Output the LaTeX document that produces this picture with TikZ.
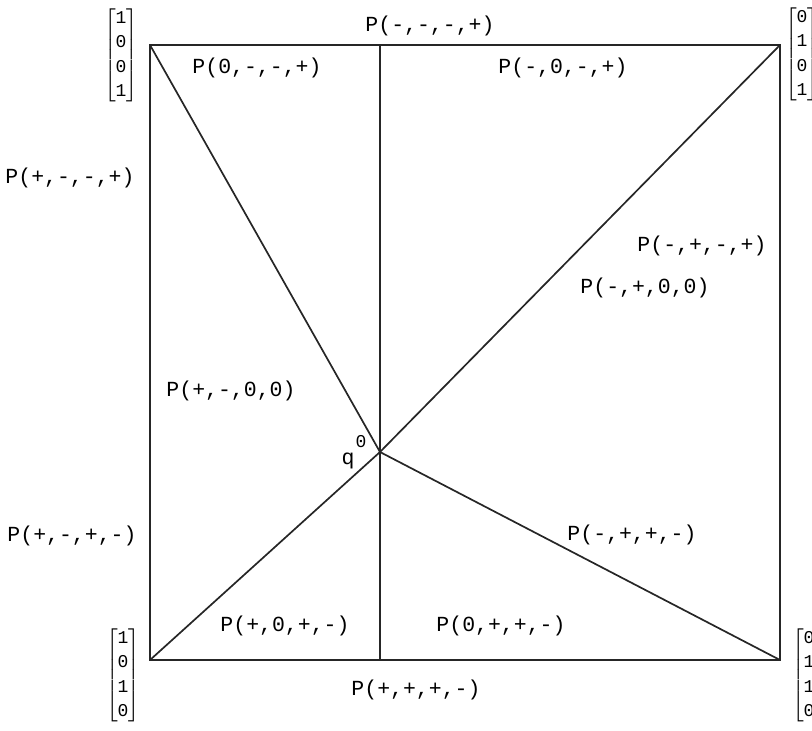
\documentclass[tikz,border=0pt]{standalone}
\usepackage{amsmath}
\usepackage{fontspec}
\setmonofont{Liberation Mono}
\usetikzlibrary{calc}

\newcommand{\colvec}[4]{$\left[\begin{array}{@{}c@{}}\texttt{#1}\\\texttt{#2}\\\texttt{#3}\\\texttt{#4}\end{array}\right]$}

\begin{document}
\begin{tikzpicture}[x=1pt, y=-1pt,
    edge/.style={line width=1.7pt, black!85},
    lab/.style={font=\fontsize{21.5}{24}\selectfont\ttfamily, inner sep=0pt},
    vec/.style={font=\fontsize{18}{24.5}\selectfont, inner sep=0pt}]

\useasboundingbox (0,0) rectangle (812,731);
\clip (0,0) rectangle (812,731);

% === Corners of the square and the point q^0 ===
\coordinate (tl) at (150, 45);
\coordinate (tr) at (780, 45);
\coordinate (bl) at (150, 660);
\coordinate (br) at (780, 660);
\coordinate (q0) at (380, 452);
\coordinate (mt) at (380, 45);
\coordinate (mb) at (380, 660);

% Square
\draw[edge] (tl) -- (tr) -- (br) -- (bl) -- cycle;

% Lines through q^0
\draw[edge] (mt) -- (mb);
\draw[edge] (tl) -- (q0);
\draw[edge] (tr) -- (q0);
\draw[edge] (bl) -- (q0);
\draw[edge] (br) -- (q0);

% === Corner vectors ===
\node[vec] (vtl) at (121, 55)  {\colvec{1}{0}{0}{1}};
\node[vec] (vtr) at (802, 54)  {\colvec{0}{1}{0}{1}};
\node[vec] (vbl) at (123, 675) {\colvec{1}{0}{1}{0}};
\node[vec] (vbr) at (809, 675) {\colvec{0}{1}{1}{0}};

% === Region labels ===
\node[lab] (ptop)  at (430, 26)  {P(-,-,-,+)};
\node[lab] (pa)    at (257, 68)  {P(0,-,-,+)};
\node[lab] (pb)    at (563, 68)  {P(-,0,-,+)};
\node[lab] (pleft) at (70, 178)  {P(+,-,-,+)};
\node[lab] (pc)    at (702, 246) {P(-,+,-,+)};
\node[lab] (pd)    at (645, 288) {P(-,+,0,0)};
\node[lab] (pe)    at (231, 391) {P(+,-,0,0)};
\node[lab] (pf)    at (72, 536)  {P(+,-,+,-)};
\node[lab] (pg)    at (632, 535) {P(-,+,+,-)};
\node[lab] (ph)    at (285, 626) {P(+,0,+,-)};
\node[lab] (pi)    at (501, 626) {P(0,+,+,-)};
\node[lab] (pbot)  at (416, 690) {P(+,+,+,-)};

% q^0
\node[lab] (qlab) at (348, 461) {q};
\node[lab, font=\fontsize{18}{20}\selectfont\ttfamily] (qsup) at (361, 442) {0};

\end{tikzpicture}
\end{document}
